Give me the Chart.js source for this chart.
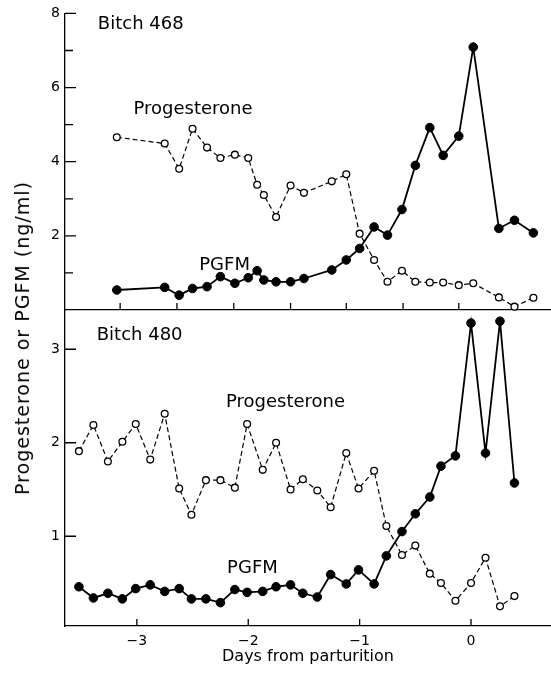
<!DOCTYPE html>
<html lang="en">
<head>
  <meta charset="UTF-8">
  <title>Progesterone and PGFM around parturition</title>
  <style>
    body {
      margin: 0;
      background: #fff;
      font-family: 'DejaVu Sans', sans-serif;
    }
    #wrap {
      position: relative;
      width: 551px;
      height: 676px;
    }
    canvas {
      position: absolute;
      left: 0;
      top: 0;
    }
    #ytitle {
      position: absolute;
      left: 22px;
      top: 338px;
      transform: translate(-50%, -50%) rotate(-90deg);
      white-space: nowrap;
      font-size: 19px;
      letter-spacing: 1px;
      color: #000;
    }
  </style>
</head>
<body>
  <div id="wrap">
    <canvas id="lower" width="551" height="676"></canvas>
    <canvas id="upper" width="551" height="676"></canvas>
    <div id="ytitle">Progesterone or PGFM (ng/ml)</div>
  </div>

  <script src="https://cdn.jsdelivr.net/npm/chart.js"></script>
  <script>
    // Bitch 468 (upper panel)
    const days468 = [-3.18, -2.75, -2.62, -2.50, -2.37, -2.25, -2.12, -2.00, -1.92, -1.86, -1.75,
                     -1.62, -1.50, -1.25, -1.12, -1.00, -0.87, -0.75, -0.62, -0.50, -0.37, -0.25,
                     -0.11, 0.02, 0.25, 0.39, 0.56];
    const prog468 = [4.66, 4.49, 3.81, 4.89, 4.38, 4.10, 4.19, 4.10, 3.38, 3.10, 2.51,
                     3.36, 3.16, 3.47, 3.66, 2.06, 1.35, 0.76, 1.06, 0.76, 0.74, 0.74,
                     0.67, 0.72, 0.34, 0.09, 0.33];
    const pgfm468 = [0.54, 0.61, 0.40, 0.58, 0.63, 0.90, 0.72, 0.87, 1.06, 0.81, 0.76,
                     0.76, 0.85, 1.08, 1.35, 1.66, 2.24, 2.02, 2.71, 3.90, 4.92, 4.17,
                     4.69, 7.09, 2.20, 2.42, 2.08];

    // Bitch 480 (lower panel)
    const days480 = [-3.52, -3.39, -3.26, -3.13, -3.01, -2.88, -2.75, -2.62, -2.51, -2.38, -2.25,
                     -2.12, -2.01, -1.87, -1.75, -1.62, -1.51, -1.38, -1.26, -1.12, -1.01, -0.87,
                     -0.76, -0.62, -0.50, -0.37, -0.27, -0.14, 0.00, 0.13, 0.26, 0.39];
    const prog480 = [1.91, 2.19, 1.80, 2.01, 2.20, 1.82, 2.31, 1.51, 1.23, 1.60, 1.60,
                     1.52, 2.20, 1.71, 2.00, 1.50, 1.61, 1.49, 1.31, 1.89, 1.51, 1.70,
                     1.11, 0.80, 0.90, 0.60, 0.50, 0.31, 0.50, 0.77, 0.25, 0.36];
    const pgfm480 = [0.46, 0.34, 0.39, 0.33, 0.44, 0.48, 0.41, 0.44, 0.33, 0.33, 0.29,
                     0.43, 0.40, 0.41, 0.46, 0.48, 0.39, 0.35, 0.59, 0.49, 0.64, 0.49,
                     0.79, 1.05, 1.24, 1.42, 1.75, 1.86, 3.28, 1.89, 3.30, 1.57];

    // ticks
    const upperYTicks = [1, 2, 3, 4, 5, 6, 7, 8];
    const upperDayTicks = [-3.15, -2.64, -2.13, -1.62, -1.12, -0.61, -0.11];
    const lowerYTicks = [1, 2, 3];
    const lowerDayTicks = [-3, -2, -1, 0];

    const DAY_MIN = -3.645, DAY_MAX = 0.718;

    Chart.defaults.font.family = "'DejaVu Sans', sans-serif";
    Chart.defaults.color = '#000';

    // inward tick marks + in-panel labels
    const panelMarks = {
      id: 'panelMarks',
      afterDraw(chart, args, o) {
        const { ctx, chartArea: a, scales: { x, y } } = chart;
        ctx.save();
        ctx.strokeStyle = '#000';
        ctx.lineWidth = 1.3;
        ctx.beginPath();
        o.yTicks.forEach(v => {
          const py = y.getPixelForValue(v);
          const len = o.minor && v % 2 ? 8 : 11;
          ctx.moveTo(a.left, py);
          ctx.lineTo(a.left + len, py);
        });
        o.xTicks.forEach(v => {
          const px = x.getPixelForValue(v);
          ctx.moveTo(px, a.bottom);
          ctx.lineTo(px, a.bottom - 7);
        });
        ctx.stroke();
        ctx.fillStyle = '#000';
        ctx.font = "18px 'DejaVu Sans'";
        ctx.textBaseline = 'alphabetic';
        o.labels.forEach(l => ctx.fillText(l.text, x.getPixelForValue(l.x), y.getPixelForValue(l.y)));
        ctx.restore();
      }
    };

    function series(days, vals) {
      return days.map((d, i) => ({ x: d, y: vals[i] }));
    }

    function datasets(days, prog, pgfm) {
      return [
        {
          label: 'Progesterone',
          data: series(days, prog),
          borderColor: '#000',
          borderWidth: 1.2,
          borderDash: [5, 3],
          pointRadius: 3.4,
          pointBackgroundColor: '#fff',
          pointBorderColor: '#000',
          pointBorderWidth: 1.3,
          clip: false
        },
        {
          label: 'PGFM',
          data: series(days, pgfm),
          borderColor: '#000',
          borderWidth: 1.8,
          pointRadius: 4.3,
          pointBackgroundColor: '#000',
          pointBorderColor: '#000',
          pointBorderWidth: 1,
          clip: false
        }
      ];
    }

    const axisLine = { display: true, color: '#000', width: 1.3 };
    const noGrid = { display: true, drawOnChartArea: false, drawTicks: false };

    new Chart(document.getElementById('upper'), {
      type: 'line',
      data: { datasets: datasets(days468, prog468, pgfm468) },
      options: {
        responsive: false,
        animation: false,
        layout: { autoPadding: false, padding: { top: 13, right: 0, bottom: 366, left: 0 } },
        plugins: {
          legend: { display: false },
          tooltip: { enabled: false },
          panelMarks: {
            yTicks: upperYTicks,
            xTicks: upperDayTicks,
            minor: true,
            labels: [
              { text: 'Bitch 468', x: -3.35, y: 7.59 },
              { text: 'Progesterone', x: -3.03, y: 5.30 },
              { text: 'PGFM', x: -2.44, y: 1.08 }
            ]
          }
        },
        scales: {
          x: {
            type: 'linear',
            min: DAY_MIN,
            max: DAY_MAX,
            ticks: { display: false },
            grid: noGrid,
            border: axisLine
          },
          y: {
            min: 0,
            max: 8,
            afterBuildTicks: s => { s.ticks = upperYTicks.map(v => ({ value: v })); },
            afterFit: s => { s.width = 65; },
            ticks: { font: { size: 14 }, padding: 5, callback: v => (v % 2 === 0 ? v : '') },
            grid: noGrid,
            border: axisLine
          }
        }
      },
      plugins: [panelMarks]
    });

    new Chart(document.getElementById('lower'), {
      type: 'line',
      data: { datasets: datasets(days480, prog480, pgfm480) },
      options: {
        responsive: false,
        animation: false,
        layout: { autoPadding: false, padding: { top: 310, right: 0, bottom: 0, left: 0 } },
        plugins: {
          legend: { display: false },
          tooltip: { enabled: false },
          panelMarks: {
            yTicks: lowerYTicks,
            xTicks: lowerDayTicks,
            minor: false,
            labels: [
              { text: 'Bitch 480', x: -3.36, y: 3.10 },
              { text: 'Progesterone', x: -2.20, y: 2.38 },
              { text: 'PGFM', x: -2.19, y: 0.61 }
            ]
          }
        },
        scales: {
          x: {
            type: 'linear',
            min: DAY_MIN,
            max: DAY_MAX,
            afterBuildTicks: s => { s.ticks = lowerDayTicks.map(v => ({ value: v })); },
            afterFit: s => { s.height = 50; },
            ticks: {
              font: { size: 14 },
              padding: 7,
              maxRotation: 0,
              callback: v => (v < 0 ? '\u2212' + (-v) : String(v))
            },
            title: {
              display: true,
              text: 'Days from parturition',
              font: { size: 16 },
              padding: { top: 0, bottom: 10 }
            },
            grid: noGrid,
            border: axisLine
          },
          y: {
            min: 0.04,
            max: 3.42,
            afterBuildTicks: s => { s.ticks = lowerYTicks.map(v => ({ value: v })); },
            afterFit: s => { s.width = 65; },
            ticks: { font: { size: 14 }, padding: 5 },
            grid: noGrid,
            border: axisLine
          }
        }
      },
      plugins: [panelMarks]
    });
  </script>
</body>
</html>
